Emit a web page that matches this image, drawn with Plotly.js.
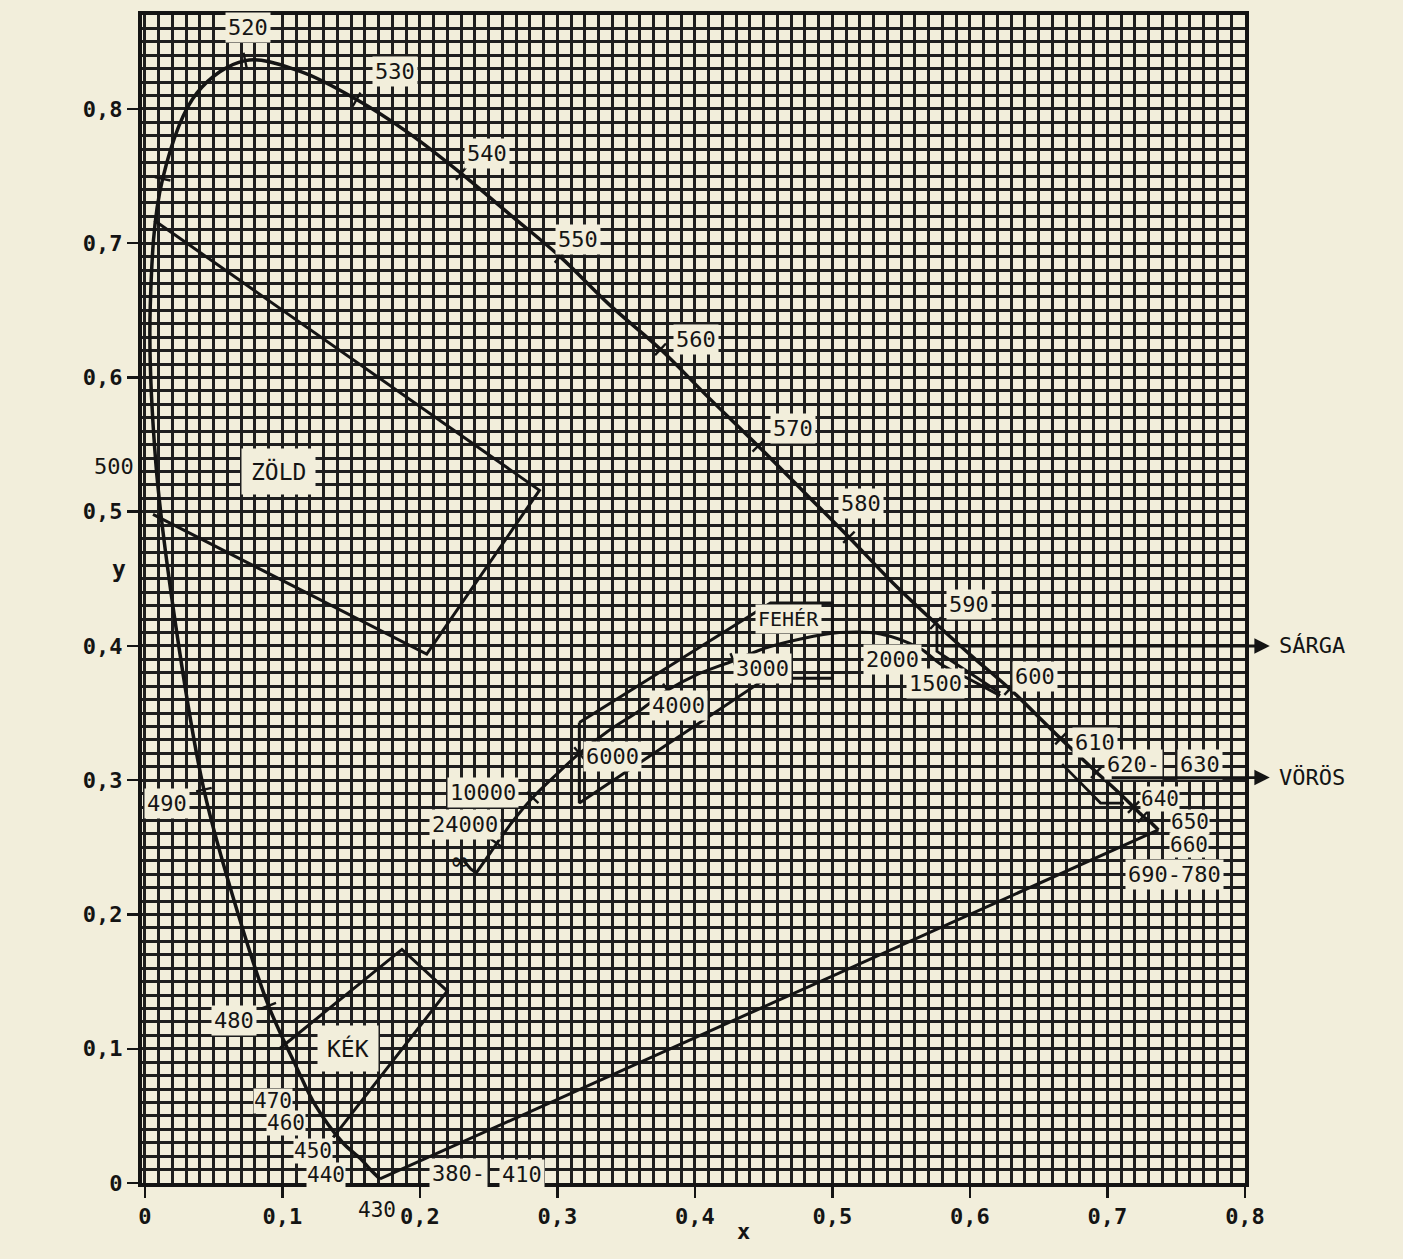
<!DOCTYPE html>
<html>
<head>
<meta charset="utf-8">
<script src="https://cdn.plot.ly/plotly-3.0.1.min.js"></script>
<style>html,body{margin:0;padding:0;background:#f2eedb;}#chart{width:1403px;height:1259px;}</style>
</head>
<body>
<div id="chart"></div>
<script>
// ---- Spectral locus (wavelength nm, x, y) ----
const wavelengths = [430,440,450,460,470,475,480,485,490,495,500,505,510,515,520,525,530,535,540,545,550,555,560,565,570,575,580,585,590,595,600,610,620,630,640,650,660,700];
const locusX = [0.171,0.164,0.157,0.144,0.124,0.110,0.090,0.068,0.043,0.023,0.008,0.004,0.013,0.038,0.073,0.113,0.154,0.192,0.230,0.266,0.302,0.337,0.375,0.410,0.446,0.480,0.512,0.544,0.575,0.603,0.629,0.666,0.692,0.708,0.719,0.726,0.731,0.737];
const locusY = [0.003,0.010,0.018,0.030,0.058,0.087,0.132,0.200,0.293,0.412,0.537,0.653,0.748,0.812,0.836,0.828,0.807,0.782,0.752,0.721,0.690,0.655,0.621,0.585,0.549,0.514,0.481,0.447,0.417,0.391,0.368,0.331,0.306,0.291,0.280,0.273,0.269,0.263];
const tickedWavelengths = [480,490,510,520,530,540,550,560,570,580,590,600,610,620,640,650];

// ---- Planckian (black-body) locus ----
const planckX = [0.232,0.237,0.241,0.248,0.256,0.268,0.282,0.300,0.316,0.336,0.360,0.380,0.400,0.428,0.450,0.476,0.505,0.535,0.564,0.578,0.600,0.622];
const planckY = [0.240,0.234,0.231,0.241,0.253,0.270,0.287,0.305,0.320,0.336,0.352,0.367,0.378,0.389,0.398,0.405,0.410,0.409,0.398,0.387,0.375,0.363];
const tempTickX = [0.256,0.282,0.316,0.380,0.423];
const tempTickY = [0.253,0.287,0.320,0.367,0.387];

// ---- Colour regions ----
const greenX = [0.007,0.287,0.205,0.006];
const greenY = [0.717,0.516,0.394,0.498];
const blueX = [0.098,0.187,0.220,0.137];
const blueY = [0.100,0.174,0.143,0.034];
const whiteX = [0.316,0.455,0.500,0.500,0.452,0.316,0.316];
const whiteY = [0.343,0.432,0.432,0.376,0.376,0.283,0.343];
const yellowX = [0.576,0.576,0.582,0.622];
const yellowY = [0.417,0.396,0.392,0.365];
const redX = [0.667,0.695,0.712];
const redY = [0.312,0.283,0.283];

// ---- Arrows to region names ----
const arrowNames = ['SÁRGA','VÖRÖS'];
const arrowStartX = [0.580,0.702];
const arrowY = [0.400,0.302];

// ---- Labels ----
const wlLabels = ['520','530','540','550','560','570','580','590','600','610','620-','630','640','650','660','690-780','510','490','480','470','460','450','440','380-','410'];
const wlLabelX = [0.075,0.182,0.249,0.315,0.401,0.471,0.521,0.599,0.647,0.691,0.719,0.767,0.738,0.760,0.759,0.749,-0.006,0.016,0.065,0.093,0.103,0.122,0.132,0.228,0.274];
const wlLabelY = [0.861,0.828,0.767,0.703,0.628,0.562,0.506,0.431,0.377,0.328,0.312,0.312,0.286,0.269,0.252,0.230,0.762,0.283,0.121,0.061,0.045,0.024,0.006,0.007,0.006];
const belowAxisLabel = '430';
const belowAxisLabelX = 0.169;
const tightLabels = ['640','650','660','470','460','450','440'];
const tempLabels = ['∞','24000','10000','6000','4000','3000','2000','1500','FEHÉR'];
const tempLabelX = [0.229,0.233,0.246,0.340,0.388,0.449,0.544,0.575,0.468];
const tempLabelY = [0.240,0.267,0.291,0.318,0.356,0.383,0.390,0.372,0.420];
const regionLabels = ['ZÖLD','KÉK'];
const regionLabelX = [0.097,0.148];
const regionLabelY = [0.530,0.100];

const xTickVals = [0,0.1,0.2,0.3,0.4,0.5,0.6,0.7,0.8];
const xTickText = ['0','0,1','0,2','0,3','0,4','0,5','0,6','0,7','0,8'];
const yTickVals = [0,0.1,0.2,0.3,0.4,0.5,0.6,0.7,0.8];
const yTickText = ['0','0,1','0,2','0,3','0,4','0,5','0,6','0,7','0,8'];

// ---- layout geometry ----
const PAPER = '#f2eedb';
const INK = '#141414';
const GRID = '#1e1e1e';
const FONT = 'DejaVu Sans Mono';
const ML = 142, MR = 158, MT = 15, MB = 76, W = 1403, H = 1259;
const XR = [-0.002, 0.8], YR = [0, 0.87];
const kx = (W - ML - MR) / (XR[1] - XR[0]);
const ky = (H - MT - MB) / (YR[1] - YR[0]);
const toPaperX = v => (v - XR[0]) / (XR[1] - XR[0]);

function crossTicks(xs, ys, idxs, halfPx) {
  const tx = [], ty = [];
  idxs.forEach(i => {
    const a = Math.max(0, i - 1), b = Math.min(xs.length - 1, i + 1);
    const dx = (xs[b] - xs[a]) * kx, dy = (ys[b] - ys[a]) * ky;
    const len = Math.hypot(dx, dy) || 1;
    const nx = -dy / len, ny = dx / len;
    tx.push(xs[i] - nx * halfPx / kx, xs[i] + nx * halfPx / kx, null);
    ty.push(ys[i] - ny * halfPx / ky, ys[i] + ny * halfPx / ky, null);
  });
  return {x: tx, y: ty};
}

const line = (x, y, w, shape) => ({x, y, type: 'scatter', mode: 'lines', line: {color: INK, width: w || 3, shape: shape || 'linear', smoothing: 1}, hoverinfo: 'skip', showlegend: false, cliponaxis: false});

const wlIdx = tickedWavelengths.map(w => wavelengths.indexOf(w));
const wlTicks = crossTicks(locusX, locusY, wlIdx, 8);
const tIdx = tempTickX.map((tx, k) => {
  let best = 0, bd = 1e9;
  planckX.forEach((px, j) => { const d = Math.hypot(px - tx, planckY[j] - tempTickY[k]); if (d < bd) { bd = d; best = j; } });
  return best;
});
const tTicks = crossTicks(planckX, planckY, tIdx, 8);

const traces = [
  line(locusX, locusY, 3.5, 'spline'),
  line([locusX[locusX.length - 1], locusX[0]], [locusY[locusY.length - 1], locusY[0]], 3),
  line(greenX, greenY, 3),
  line(blueX, blueY, 3),
  line(whiteX, whiteY, 3),
  line(yellowX, yellowY, 2.8),
  line(redX, redY, 2.8),
  line(planckX.slice(0, 4), planckY.slice(0, 4), 3),
  line(planckX.slice(3), planckY.slice(3), 3, 'spline'),
  line(wlTicks.x, wlTicks.y, 2.4),
  line(tTicks.x, tTicks.y, 2.4)
];

const annotations = [];
const lab = (t, x, y, size, extra) => Object.assign({
  text: t, x, y, xref: 'x', yref: 'y', showarrow: false,
  font: {family: FONT, size: size || 22, color: INK},
  bgcolor: PAPER, borderpad: 2
}, extra || {});

wlLabels.forEach((t, i) => {
  const tight = tightLabels.includes(t);
  annotations.push(lab(t, wlLabelX[i], wlLabelY[i], tight ? 21 : 22, tight ? {borderpad: 0} : {}));
});
annotations.push(lab(belowAxisLabel, belowAxisLabelX, 0, 21, {yanchor: 'top', yshift: -12, bgcolor: 'rgba(0,0,0,0)'}));
tempLabels.forEach((t, i) => annotations.push(lab(t, tempLabelX[i], tempLabelY[i], i === 0 ? 26 : (i === 8 ? 20 : 22), i === 0 ? {bgcolor: 'rgba(0,0,0,0)'} : {})));
regionLabels.forEach((t, i) => annotations.push(lab(t, regionLabelX[i], regionLabelY[i], 23, {borderpad: 9})));
arrowNames.forEach((t, i) => {
  annotations.push({x: 0.818, y: arrowY[i], xref: 'x', yref: 'y', axref: 'x', ayref: 'y', ax: arrowStartX[i], ay: arrowY[i], text: '', showarrow: true, arrowhead: 2, arrowsize: 1.1, arrowwidth: 2.8, arrowcolor: INK, standoff: 0, startstandoff: 0});
  annotations.push({text: t, x: toPaperX(0.823), y: arrowY[i], xref: 'paper', yref: 'y', xanchor: 'left', showarrow: false, font: {family: FONT, size: 22, color: INK}});
});
// extra "500" wavelength mark on the y-axis side, and axis names
annotations.push({text: '500', x: 0, y: 0.534, xref: 'paper', yref: 'y', xanchor: 'right', xshift: -6, showarrow: false, font: {family: FONT, size: 22, color: INK}});
annotations.push({text: 'x', x: 0.435, y: 0, xref: 'x', yref: 'paper', yanchor: 'top', yshift: -34, showarrow: false, font: {family: FONT, size: 22, color: INK, weight: 'bold'}});
annotations.push({text: 'y', x: 0, y: 0.457, xref: 'paper', yref: 'y', xanchor: 'right', xshift: -14, showarrow: false, font: {family: FONT, size: 23, color: INK, weight: 'bold'}});

const axisCommon = {
  showgrid: true, gridcolor: GRID, gridwidth: 3,
  zeroline: false, showline: true, mirror: true, linecolor: INK, linewidth: 4,
  ticks: 'outside', ticklen: 11, tickwidth: 2.5, tickcolor: INK,
  tickfont: {family: FONT, size: 22, color: INK, weight: 'bold'},
  tickmode: 'array', fixedrange: true,
  minor: {tickmode: 'linear', tick0: 0, dtick: 0.01, showgrid: true, gridcolor: GRID, gridwidth: 3, ticks: ''}
};

const layout = {
  width: W, height: H,
  margin: {l: ML, r: MR, t: MT, b: MB},
  paper_bgcolor: PAPER, plot_bgcolor: PAPER,
  xaxis: Object.assign({}, axisCommon, {range: XR, tickvals: xTickVals, ticktext: xTickText}),
  yaxis: Object.assign({}, axisCommon, {range: YR, tickvals: yTickVals, ticktext: yTickText}),
  annotations,
  showlegend: false
};

Plotly.newPlot('chart', traces, layout, {staticPlot: true, displayModeBar: false});
</script>
</body>
</html>
